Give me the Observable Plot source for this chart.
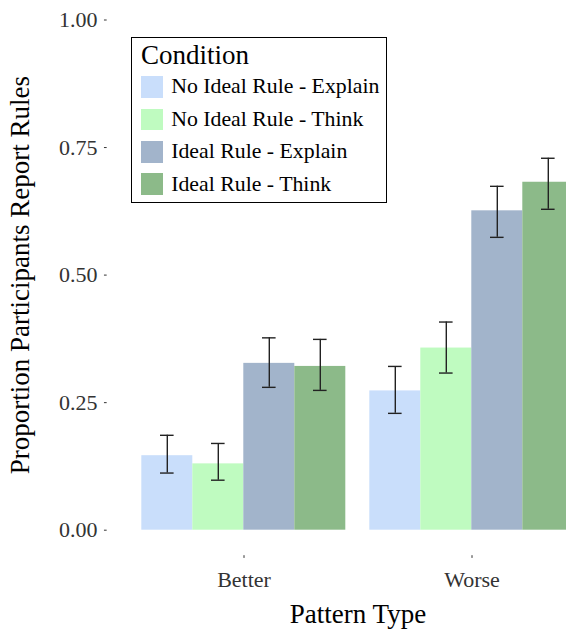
<!DOCTYPE html>
<html>
<head>
<meta charset="utf-8">
<script src="https://cdn.jsdelivr.net/npm/d3@7"></script>
<script src="https://cdn.jsdelivr.net/npm/@observablehq/plot@0.6"></script>
<style>
  body { margin: 0; background: #fff; }
  #chart {
    position: relative;
    width: 566px;
    height: 631px;
    overflow: hidden;
    font-family: "Liberation Serif", "Times New Roman", serif;
  }
  #chart svg g[aria-label$="axis label"] { font-size: 27px; fill: #000; }
  #legend {
    position: absolute;
    left: 131px;
    top: 37px;
    width: 254px;
    height: 164px;
    border: 1.5px solid #000;
    background: #fff;
    color: #000;
  }
  #legend .title {
    position: absolute;
    left: 9px;
    top: 2.2px;
    font-size: 27px;
    line-height: 30px;
  }
  #legend .row {
    position: absolute;
    left: 8.5px;
    height: 32.4px;
    display: flex;
    align-items: center;
    font-size: 21.8px;
    white-space: nowrap;
  }
  #legend .sw { width: 22px; height: 21.6px; margin-right: 8.7px; flex: none; }
</style>
</head>
<body>
<div id="chart"></div>
<script>
// Pattern types on the x axis and the four experimental conditions
const patterns = ["Better", "Worse"];
const conditions = [
  "No Ideal Rule - Explain",
  "No Ideal Rule - Think",
  "Ideal Rule - Explain",
  "Ideal Rule - Think"
];
const conditionColors = ["#c9defb", "#bffbc0", "#a2b4cb", "#8cba89"];

// Proportion of participants reporting rules, one value per condition
const betterMean = [0.146, 0.130, 0.327, 0.321];
const worseMean  = [0.273, 0.357, 0.626, 0.682];
// Error bar bounds
const betterLow  = [0.112, 0.098, 0.280, 0.274];
const betterHigh = [0.186, 0.170, 0.377, 0.374];
const worseLow   = [0.229, 0.308, 0.574, 0.629];
const worseHigh  = [0.321, 0.408, 0.674, 0.729];

const yTicks = [0, 0.25, 0.5, 0.75, 1];

const means = [betterMean, worseMean];
const lows = [betterLow, worseLow];
const highs = [betterHigh, worseHigh];

const rows = patterns.flatMap((p, i) =>
  conditions.map((c, j) => ({
    pattern: p,
    condition: c,
    mean: means[i][j],
    lo: lows[i][j],
    hi: highs[i][j]
  }))
);

const width = 566;
const height = 631;
const margins = {marginLeft: 105.7, marginRight: -43.3, marginTop: -6, marginBottom: 75.8};

// Facet (pattern type) scale; the panel extends past the right edge
const fxOptions = {domain: patterns, paddingInner: 0.1, paddingOuter: 0.15};
const fxScale = Plot.scale({
  x: {type: "band", ...fxOptions, range: [margins.marginLeft, width - margins.marginRight]}
});
// The y axis sits on the panel edge rather than on the first facet's edge
const facetLeft = fxScale.apply(patterns[0]);
const axisShift = margins.marginLeft - facetLeft;

const errStyle = {stroke: "#222", strokeWidth: 1.4};

const chart = Plot.plot({
  width,
  height,
  ...margins,
  style: {
    fontFamily: "'Liberation Serif', 'Times New Roman', serif",
    fontSize: "22px",
    color: "#333",
    background: "white"
  },
  facet: {data: rows, x: "pattern"},
  fx: {
    ...fxOptions,
    label: "Pattern Type",
    labelAnchor: "center",
    labelOffset: 67,
    tickSize: 2.7,
    tickPadding: 13
  },
  x: {domain: conditions, padding: 0, axis: null},
  y: {domain: [-0.05, 1.05]},
  color: {domain: conditions, range: conditionColors},
  marks: [
    // tick marks and tick labels
    Plot.axisY({
      dx: axisShift,
      ticks: yTicks,
      tickFormat: ".2f",
      tickSize: 2.7,
      tickPadding: 7,
      label: null
    }),
    // axis title, kept separate so the shift does not act along its rotation
    Plot.axisY({
      ticks: [],
      tickSize: 0,
      label: "Proportion Participants Report Rules",
      labelAnchor: "center",
      labelOffset: facetLeft - 8,
      labelArrow: "none"
    }),
    Plot.barY(rows, {x: "condition", y: "mean", fill: "condition"}),
    Plot.ruleX(rows, {x: "condition", y1: "lo", y2: "hi", ...errStyle}),
    Plot.tickY(rows, {x: "condition", y: "lo", insetLeft: 18.7, insetRight: 18.7, ...errStyle}),
    Plot.tickY(rows, {x: "condition", y: "hi", insetLeft: 18.7, insetRight: 18.7, ...errStyle})
  ]
});

const root = document.getElementById("chart");
root.appendChild(chart);

// Condition legend inside the plotting area
const legend = document.createElement("div");
legend.id = "legend";
const title = document.createElement("div");
title.className = "title";
title.textContent = "Condition";
legend.appendChild(title);
conditions.forEach((c, i) => {
  const row = document.createElement("div");
  row.className = "row";
  row.style.top = (32.8 + i * 32.4) + "px";
  const sw = document.createElement("div");
  sw.className = "sw";
  sw.style.background = conditionColors[i];
  const label = document.createElement("span");
  label.textContent = c;
  row.appendChild(sw);
  row.appendChild(label);
  legend.appendChild(row);
});
root.appendChild(legend);
</script>
</body>
</html>
